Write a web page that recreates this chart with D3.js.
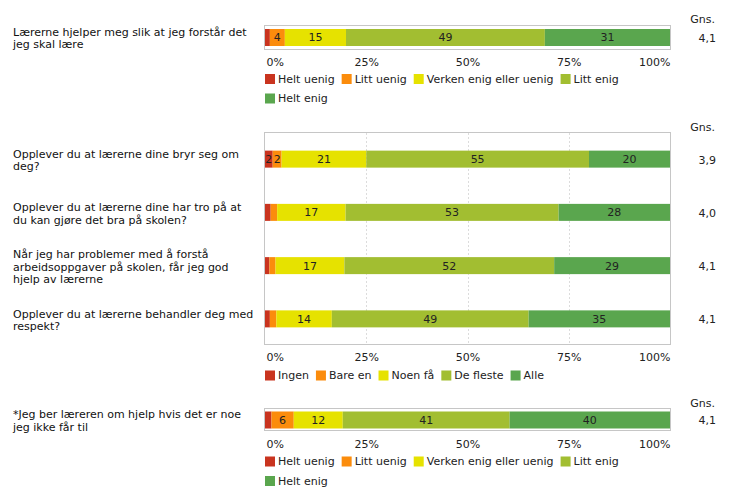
<!DOCTYPE html>
<html><head><meta charset="utf-8">
<script src="https://cdn.jsdelivr.net/npm/d3@7"></script>
<style>
html,body{margin:0;padding:0;background:#fff;}
text{font-family:"DejaVu Sans",Verdana,sans-serif;}
</style></head>
<body>
<svg id="chart" width="735" height="495"></svg>
<script>
// ---------- data ----------
const scaleAgree = ["Helt uenig", "Litt uenig", "Verken enig eller uenig", "Litt enig", "Helt enig"];
const scaleCount = ["Ingen", "Bare en", "Noen få", "De fleste", "Alle"];
const tickValues = [0, 25, 50, 75, 100];
const meanHeader = "Gns.";

const q1Labels = [["Lærerne hjelper meg slik at jeg forstår det", "jeg skal lære"]];
const q1Values = [[1.2, 3.7, 15.1, 49.1, 30.9]];
const q1Means = ["4,1"];

const q2Labels = [
  ["Opplever du at lærerne dine bryr seg om", "deg?"],
  ["Opplever du at lærerne dine har tro på at", "du kan gjøre det bra på skolen?"],
  ["Når jeg har problemer med å forstå", "arbeidsoppgaver på skolen, får jeg god", "hjelp av lærerne"],
  ["Opplever du at lærerne behandler deg med", "respekt?"]
];
const q2Values = [
  [1.9, 2.2, 20.9, 55.0, 20.0],
  [1.4, 1.6, 16.9, 52.6, 27.5],
  [1.1, 1.5, 17.0, 51.8, 28.6],
  [1.2, 1.6, 13.7, 48.6, 34.9]
];
const q2Means = ["3,9", "4,0", "4,1", "4,1"];

const q3Labels = [["*Jeg ber læreren om hjelp hvis det er noe", "jeg ikke får til"]];
const q3Values = [[1.6, 5.5, 12.1, 41.2, 39.6]];
const q3Means = ["4,1"];

const colors = ["#c9341f", "#fb8c0c", "#e6e200", "#a2be31", "#5aa64e"];

// ---------- layout ----------
const svg = d3.select("#chart");
const X0 = 265, X1 = 670;
const x = d3.scaleLinear().domain([0, 100]).range([X0, X1]);
const FS = 11;

function panel(cfg) {
  const g = svg.append("g");
  const n = cfg.values.length;
  const y = d3.scaleBand().domain(d3.range(n)).range([cfg.boxTop, cfg.boxBottom]);
  const barH = 17;

  // box
  g.append("rect")
    .attr("x", X0 - 0.5).attr("y", cfg.boxTop + 0.5)
    .attr("width", X1 - X0 + 1).attr("height", cfg.boxBottom - cfg.boxTop - 1)
    .attr("fill", "none").attr("stroke", "#c6c6c6");

  if (cfg.grid) {
    g.selectAll("line.grid").data(tickValues.slice(1, -1)).join("line")
      .attr("x1", d => Math.round(x(d)) + 0.5).attr("x2", d => Math.round(x(d)) + 0.5)
      .attr("y1", cfg.boxTop + 1).attr("y2", cfg.boxBottom - 1)
      .attr("stroke", "#dcdcdc").attr("stroke-dasharray", "2,2");
  }

  // rows
  cfg.values.forEach((vals, i) => {
    const cy = y(i) + y.bandwidth() / 2 + (cfg.barShift || 0);
    let acc = 0;
    const segs = vals.map((v, k) => { const s = { k, v, a: acc }; acc += v; return s; });
    const row = g.append("g");
    row.selectAll("rect").data(segs).join("rect")
      .attr("x", d => x(d.a)).attr("width", d => x(d.a + d.v) - x(d.a))
      .attr("y", cy - barH / 2).attr("height", barH)
      .attr("fill", d => colors[d.k]);
    row.selectAll("text").data(segs.filter(d => x(d.a + d.v) - x(d.a) >= 7)).join("text")
      .attr("x", d => (x(d.a) + x(d.a + d.v)) / 2).attr("y", cy)
      .attr("dy", "0.36em").attr("text-anchor", "middle")
      .attr("font-size", FS).attr("fill", "#222")
      .text(d => Math.round(d.v));

    // question label
    const lines = cfg.labels[i];
    const lh = 12.5;
    const t = g.append("text").attr("x", 13).attr("font-size", FS).attr("fill", "#111");
    lines.forEach((ln, j) => {
      t.append("tspan").attr("x", 13)
        .attr("y", cy + (j - (lines.length - 1) / 2) * lh + cfg.labelShift)
        .attr("dy", "0.36em").text(ln);
    });

    // mean
    g.append("text").attr("x", 716).attr("y", cy + 0.5).attr("dy", "0.36em")
      .attr("text-anchor", "end").attr("font-size", FS).attr("fill", "#222")
      .text(cfg.means[i]);
  });

  // header
  g.append("text").attr("x", 715).attr("y", cfg.headerY).attr("dy", "0.36em")
    .attr("text-anchor", "end").attr("font-size", FS).attr("fill", "#222").text(meanHeader);

  // axis
  const axis = d3.axisBottom(x).tickValues(tickValues).tickSize(0).tickPadding(0)
    .tickFormat(d => d + "%");
  const ag = g.append("g").attr("transform", `translate(0,${cfg.axisY})`).call(axis);
  ag.select(".domain").remove();
  ag.selectAll("text").attr("font-size", FS).attr("fill", "#222")
    .attr("font-family", '"DejaVu Sans",Verdana,sans-serif').attr("dy", "0.36em").attr("y", 0);
  ag.selectAll(".tick").filter(d => d === 0).select("text").attr("text-anchor", "start").attr("x", 1);
  ag.selectAll(".tick").filter(d => d === 100).select("text").attr("text-anchor", "end").attr("x", 0);

  // legend
  const lg = g.append("g");
  let lx = X0, ly = cfg.legendY;
  cfg.legend.forEach((name, k) => {
    const it = lg.append("g");
    it.append("rect").attr("x", 0).attr("y", -5).attr("width", 10).attr("height", 10).attr("fill", colors[k]);
    const tx = it.append("text").attr("x", 13).attr("y", 0).attr("dy", "0.36em")
      .attr("font-size", FS).attr("fill", "#222").text(name);
    const w = 13 + tx.node().getComputedTextLength();
    if (lx + w > X1 && lx > X0) { lx = X0; ly += 19.5; }
    it.attr("transform", `translate(${lx},${ly})`);
    lx += w + 7;
  });
}

panel({ labels: q1Labels, values: q1Values, means: q1Means, legend: scaleAgree,
  boxTop: 25, boxBottom: 50, headerY: 19, axisY: 62, legendY: 79, grid: false, labelShift: 0.5, barShift: 0 });
panel({ labels: q2Labels, values: q2Values, means: q2Means, legend: scaleCount,
  boxTop: 132, boxBottom: 345, headerY: 127, axisY: 357, legendY: 375.5, grid: true, labelShift: 1, barShift: 0.5 });
panel({ labels: q3Labels, values: q3Values, means: q3Means, legend: scaleAgree,
  boxTop: 408, boxBottom: 431, headerY: 403, axisY: 444, legendY: 461.5, grid: false, labelShift: 0.5, barShift: 0.5 });
</script>
</body></html>
